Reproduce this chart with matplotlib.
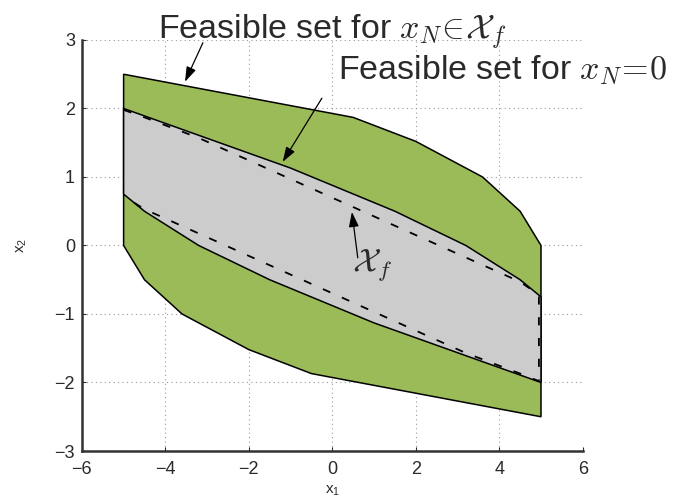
import matplotlib.pyplot as plt
from matplotlib.patches import Polygon

plt.rcParams["font.family"] = ["Liberation Sans", "DejaVu Sans"]
plt.rcParams["mathtext.fontset"] = "cm"

# outer set: feasible states for x_N in X_f
outer_x = [-5.0, 0.5, 2.0, 3.6, 4.5, 5.0, 5.0, -0.5, -2.0, -3.6, -4.5, -5.0]
outer_y = [2.5, 1.87, 1.52, 1.0, 0.5, 0.0, -2.5, -1.87, -1.52, -1.0, -0.5, 0.0]

# inner set: feasible states for x_N = 0
inner_x = [-5.0, -1.0, 1.5, 3.2, 4.5, 5.0, 5.0, 1.0, -1.5, -3.2, -4.5, -5.0]
inner_y = [2.0, 1.13, 0.5, 0.0, -0.5, -0.75, -2.0, -1.13, -0.5, 0.0, 0.5, 0.75]

# terminal set X_f (dashed); its left side lies on the x1 = -5 edge
term_x = [-5.0, -4.5, -3.2, 4.5, 4.95, 4.95, 4.5, 3.2, -4.5, -5.0]
term_y = [1.98, 1.87, 1.57, -0.53, -0.72, -1.98, -1.87, -1.57, 0.53, 0.72]

x_ticks = [-6, -4, -2, 0, 2, 4, 6]
y_ticks = [-3, -2, -1, 0, 1, 2, 3]

green = "#9bbb59"
grey = "#cccccc"
ink = "#2a2a2a"

fig = plt.figure(figsize=(6.88, 5.01), dpi=100)
ax = fig.add_axes([0.119, 0.0998, 0.728, 0.8204])

ax.add_patch(Polygon(list(zip(outer_x, outer_y)), closed=True,
                     facecolor=green, edgecolor="black", lw=1.1, zorder=2))
ax.add_patch(Polygon(list(zip(inner_x, inner_y)), closed=True,
                     facecolor=grey, edgecolor="black", lw=1.1, zorder=3))
ax.plot(term_x, term_y, color="black", lw=1.3, linestyle=(0, (4.5, 7)),
        zorder=4)

ax.set_xlim(-6, 6)
ax.set_ylim(-3, 3)
ax.set_xticks(x_ticks)
ax.set_yticks(y_ticks)
ax.set_xticklabels(["\u2212" + str(-t) if t < 0 else str(t) for t in x_ticks])
ax.set_yticklabels(["\u2212" + str(-t) if t < 0 else str(t) for t in y_ticks])
ax.tick_params(direction="in", length=3, labelsize=13, colors=ink)
ax.tick_params(axis="x", pad=7)
ax.tick_params(axis="y", pad=5)
ax.grid(True, linestyle=(0, (1, 3)), color="#999999", lw=0.8, zorder=0)
ax.set_axisbelow(True)
for side in ["top", "right"]:
    ax.spines[side].set_visible(False)
for side in ["left", "bottom"]:
    ax.spines[side].set_linewidth(1.8)
    ax.spines[side].set_color("#333333")

ax.set_xlabel("$\\mathregular{x_1}$", fontsize=11, labelpad=4, color=ink)
ax.set_ylabel("$\\mathregular{x_2}$", fontsize=11, labelpad=18, color=ink)

arrow = dict(arrowstyle="-|>,head_width=0.3,head_length=0.9", color="black",
             lw=0.9, mutation_scale=10, shrinkA=0, shrinkB=0)

ax.text(-4.18, 3.03, "Feasible set for $x_N\\!\\in\\!\\mathcal{X}_f$",
        ha="left", va="baseline", fontsize=24.5, color=ink, clip_on=False)
ax.annotate("", xy=(-3.53, 2.39), xytext=(-3.10, 2.96), arrowprops=arrow)

ax.text(0.13, 2.42, "Feasible set for $x_N\\!=\\!0$",
        ha="left", va="baseline", fontsize=24.5, color=ink, clip_on=False)
ax.annotate("", xy=(-1.19, 1.22), xytext=(-0.25, 2.15), arrowprops=arrow)

ax.text(0.95, -0.29, "$\\mathcal{X}_f$", ha="center", va="center",
        fontsize=24, color=ink)
ax.annotate("", xy=(0.47, 0.49), xytext=(0.61, -0.18), arrowprops=arrow)

fig.savefig("out.png", dpi=100)
